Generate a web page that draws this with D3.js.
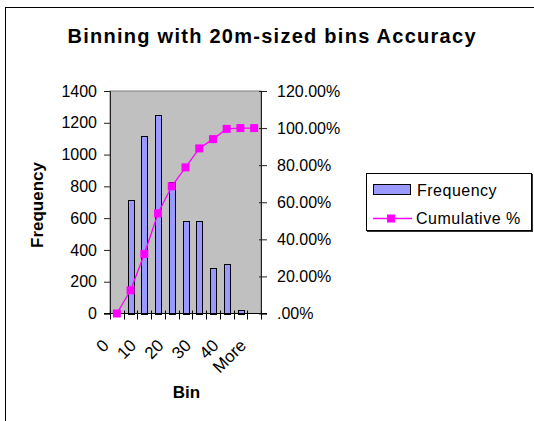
<!DOCTYPE html>
<html>
<head>
<meta charset="utf-8">
<script src="https://cdn.jsdelivr.net/npm/d3@7"></script>
<style>
  html, body { margin: 0; padding: 0; background: #fff; }
  svg { display: block; font-family: "Liberation Sans", Arial, sans-serif; }
</style>
</head>
<body>
<svg id="chart" width="534" height="421"></svg>
<script>
// Histogram bins and their counts
const bins = ["0", "5", "10", "15", "20", "25", "30", "35", "40", "45", "More"];
const frequency = [0, 713, 1117, 1249, 830, 583, 583, 285, 314, 25, 0];
// Running share of all points (percent)
const cumulative = [0, 12.51, 32.11, 54.03, 68.59, 78.82, 89.05, 94.05, 99.56, 100, 100];
const freqTicks = [0, 200, 400, 600, 800, 1000, 1200, 1400];
const pctTicks = [0, 20, 40, 60, 80, 100, 120];
const shownBins = ["0", "10", "20", "30", "40", "More"];

const svg = d3.select("#chart");
const plot = { left: 110, right: 261, top: 91, bottom: 313.5 };

// Outer chart frame
svg.append("rect")
  .attr("x", 5.5).attr("y", 7.5)
  .attr("width", 560).attr("height", 440)
  .attr("fill", "#fff").attr("stroke", "#000").attr("stroke-width", 1);

// Title
svg.append("text")
  .attr("x", 271.5).attr("y", 42.5)
  .attr("text-anchor", "middle")
  .attr("font-size", 20).attr("font-weight", "bold")
  .attr("textLength", 408).attr("lengthAdjust", "spacing")
  .text("Binning with 20m-sized bins Accuracy");

const x = d3.scaleBand().domain(bins).range([plot.left, plot.right]);
const yL = d3.scaleLinear().domain([0, 1400]).range([plot.bottom, plot.top]);
const yR = d3.scaleLinear().domain([0, 120]).range([plot.bottom, plot.top]);

// Plot background
svg.append("rect")
  .attr("x", plot.left).attr("y", plot.top)
  .attr("width", plot.right - plot.left).attr("height", plot.bottom - plot.top)
  .attr("fill", "#c0c0c0").attr("stroke", "#808080").attr("stroke-width", 1);

// Frequency bars
const bw = x.bandwidth() * 0.42;
svg.append("g").selectAll("rect")
  .data(bins.map((b, i) => ({ bin: b, v: frequency[i] })).filter(d => d.v > 0))
  .join("rect")
  .attr("x", d => Math.round(x(d.bin) + (x.bandwidth() - bw) / 2) + 0.5)
  .attr("y", d => Math.round(yL(d.v)) + 0.5)
  .attr("width", Math.round(bw))
  .attr("height", d => Math.round(yL(0)) - Math.round(yL(d.v)))
  .attr("fill", "#9999ff").attr("stroke", "#000").attr("stroke-width", 1);

// Left axis
const axL = svg.append("g")
  .attr("transform", `translate(${plot.left},0)`)
  .call(d3.axisLeft(yL).tickValues(freqTicks).tickSize(6).tickPadding(7).tickFormat(d3.format("d")));
axL.select(".domain").attr("stroke", "#222");
axL.selectAll(".tick line").attr("stroke", "#222");
axL.selectAll("text").attr("font-size", 16).attr("font-family", "Liberation Sans, Arial, sans-serif").attr("fill", "#000");

// Right axis
const axR = svg.append("g")
  .attr("transform", `translate(${plot.right},0)`)
  .call(d3.axisRight(yR).tickValues(pctTicks).tickSize(6).tickPadding(10)
    .tickFormat(d => d === 0 ? ".00%" : d.toFixed(2) + "%"));
axR.select(".domain").attr("stroke", "#222");
axR.selectAll(".tick line").attr("x1", -2).attr("stroke", "#222");
axR.selectAll("text").attr("font-size", 16).attr("font-family", "Liberation Sans, Arial, sans-serif").attr("fill", "#000");

// Bottom axis: ticks at bin boundaries, labels on every other bin
const axB = svg.append("g").attr("transform", `translate(0,${plot.bottom})`);
axB.append("line")
  .attr("x1", plot.left - 6).attr("x2", plot.right + 6)
  .attr("stroke", "#000");
const edges = bins.map(b => x(b)).concat([x(bins[bins.length - 1]) + x.bandwidth()]);
axB.selectAll("line.edge").data(edges).join("line")
  .attr("class", "edge")
  .attr("x1", d => Math.round(d) + 0.5).attr("x2", d => Math.round(d) + 0.5)
  .attr("y1", -3).attr("y2", 6)
  .attr("stroke", "#000");
axB.selectAll("text").data(shownBins).join("text")
  .attr("transform", d => `translate(${x(d) + x.bandwidth() / 2 - 7},${33}) rotate(-45)`)
  .attr("text-anchor", "end")
  .attr("font-size", 17)
  .text(d => d);

// Cumulative % line with square markers
const pts = bins.map((b, i) => ({ bin: b, v: cumulative[i] }));
svg.append("path")
  .datum(pts)
  .attr("fill", "none").attr("stroke", "#ff00ff").attr("stroke-width", 1.3)
  .attr("d", d3.line().x(d => x(d.bin) + x.bandwidth() / 2).y(d => yR(d.v)));
svg.append("g").selectAll("rect")
  .data(pts).join("rect")
  .attr("x", d => x(d.bin) + x.bandwidth() / 2 - 4)
  .attr("y", d => yR(d.v) - 4)
  .attr("width", 8).attr("height", 8)
  .attr("fill", "#ff00ff");

// Axis titles
svg.append("text")
  .attr("transform", `translate(42.5,205) rotate(-90)`)
  .attr("text-anchor", "middle")
  .attr("font-size", 17).attr("font-weight", "bold")
  .text("Frequency");
svg.append("text")
  .attr("x", 186.5).attr("y", 398)
  .attr("text-anchor", "middle")
  .attr("font-size", 17).attr("font-weight", "bold")
  .text("Bin");

// Legend
const lg = svg.append("g");
lg.append("rect")
  .attr("x", 367).attr("y", 174).attr("width", 166).attr("height", 58)
  .attr("fill", "#333");
lg.append("rect")
  .attr("x", 366).attr("y", 173).attr("width", 165).attr("height", 57)
  .attr("fill", "#fff").attr("stroke", "#000").attr("stroke-width", 1)
  .attr("transform", "translate(0.5,0.5)");
lg.append("rect")
  .attr("x", 373.5).attr("y", 184.5).attr("width", 37).attr("height", 10)
  .attr("fill", "#9999ff").attr("stroke", "#000").attr("stroke-width", 1);
lg.append("text")
  .attr("x", 417).attr("y", 195.5)
  .attr("font-size", 16).attr("letter-spacing", 0.5)
  .text("Frequency");
lg.append("line")
  .attr("x1", 373).attr("x2", 412).attr("y1", 218.5).attr("y2", 218.5)
  .attr("stroke", "#ff00ff").attr("stroke-width", 1.3);
lg.append("rect")
  .attr("x", 387).attr("y", 214.5).attr("width", 8).attr("height", 8)
  .attr("fill", "#ff00ff");
lg.append("text")
  .attr("x", 416).attr("y", 223.5)
  .attr("font-size", 16).attr("letter-spacing", 0.5)
  .text("Cumulative %");
</script>
</body>
</html>
